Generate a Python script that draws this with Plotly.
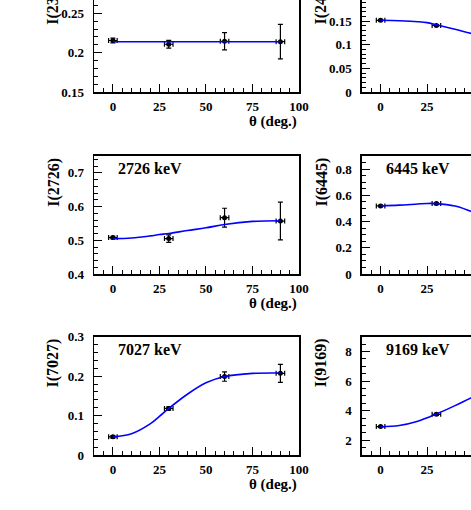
import plotly.graph_objects as go

W, H = 471, 510

# ---------------- data ----------------
theta = [0, 30, 60, 90]
theta_err = [2.3, 2.3, 2.3, 2.3]
theta_fit = [0, 10, 20, 25, 30, 40, 50, 60, 75, 90]

y_titles = ["I(2313)", "I(2498)", "I(2726)", "I(6445)", "I(7027)", "I(9169)"]
energy_labels = ["2313 keV", "2498 keV", "2726 keV", "6445 keV", "7027 keV", "9169 keV"]

I_2313 = [0.2155, 0.2107, 0.2145, 0.2140]
E_2313 = [0.003, 0.005, 0.011, 0.022]
F_2313 = [0.214, 0.214, 0.214, 0.214, 0.214, 0.214, 0.214, 0.214, 0.214, 0.214]

I_2498 = [0.152, 0.141, 0.118, 0.100]
E_2498 = [0.002, 0.002, 0.006, 0.010]
F_2498 = [0.152, 0.151, 0.149, 0.147, 0.1425, 0.133, 0.123, 0.115, 0.104, 0.100]

I_2726 = [0.508, 0.505, 0.567, 0.557]
E_2726 = [0.004, 0.011, 0.028, 0.056]
F_2726 = [0.505, 0.507, 0.513, 0.517, 0.520, 0.529, 0.537, 0.547, 0.556, 0.558]

I_6445 = [0.519, 0.537, 0.430, 0.360]
E_6445 = [0.006, 0.008, 0.020, 0.030]
F_6445 = [0.519, 0.525, 0.534, 0.538, 0.537, 0.518, 0.472, 0.430, 0.370, 0.350]

I_7027 = [0.046, 0.118, 0.199, 0.207]
E_7027 = [0.003, 0.004, 0.012, 0.023]
F_7027 = [0.046, 0.054, 0.079, 0.098, 0.118, 0.154, 0.183, 0.199, 0.207, 0.208]

I_9169 = [2.92, 3.75, 5.50, 6.30]
E_9169 = [0.05, 0.07, 0.20, 0.30]
F_9169 = [2.90, 2.99, 3.28, 3.52, 3.77, 4.34, 4.95, 5.50, 6.10, 6.30]

x_tickvals = [0, 25, 50, 75, 100]

# panel order: row-major (left, right) x 3 rows
values = [I_2313, I_2498, I_2726, I_6445, I_7027, I_9169]
errors = [E_2313, E_2498, E_2726, E_6445, E_7027, E_9169]
fits = [F_2313, F_2498, F_2726, F_6445, F_7027, F_9169]

# ---------------- layout geometry (pixels) ----------------
col_px = [(94.3, 299.0), (362.0, 471.0)]
row_px = [(-26.0, 92.0), (156.0, 274.0), (336.7, 455.0)]  # (top, bottom)

y_ranges = [[0.15, 0.267], [0, 0.195], [0.4, 0.75], [0, 0.9], [0, 0.3], [1, 9]]
y_dticks = [0.05, 0.05, 0.1, 0.2, 0.1, 2]
y_minor = [0.01, 0.01, 0.02, 0.05, 0.02, 0.5]
x_ranges = [[-10, 100], [-10, 48.6]]

FONT = "Liberation Serif"

fig = go.Figure()
ann = []

for i in range(6):
    r, c = divmod(i, 2)
    n = i + 1
    xa = "x" if n == 1 else f"x{n}"
    ya = "y" if n == 1 else f"y{n}"
    # data points
    fig.add_trace(go.Scatter(
        x=theta, y=values[i], xaxis=xa, yaxis=ya, mode="markers",
        marker=dict(color="black", size=5, symbol="circle"),
        error_x=dict(type="data", array=theta_err, color="black", thickness=1.2, width=2.5),
        error_y=dict(type="data", array=errors[i], color="black", thickness=1.2, width=2.5),
        showlegend=False, hoverinfo="skip",
    ))
    # fit curve
    fig.add_trace(go.Scatter(
        x=theta_fit, y=fits[i], xaxis=xa, yaxis=ya, mode="lines",
        line=dict(color="rgb(0,0,255)", width=1.6, shape="spline"),
        showlegend=False, hoverinfo="skip",
    ))

    top_px, bot_px = row_px[r]
    x0p, x1p = col_px[c]
    ydom = [1 - bot_px / H, min(1.0, 1 - top_px / H)]
    xdom = [x0p / W, x1p / W]

    axis_x = dict(
        domain=xdom, anchor=ya, range=x_ranges[c], tickmode="array", tickvals=x_tickvals,
        ticks="inside", ticklen=8, tickwidth=1, tickcolor="black",
        minor=dict(ticks="inside", ticklen=4, dtick=5, tickwidth=1, tickcolor="black"),
        showline=True, linecolor="black", linewidth=1.6, mirror=(r > 0),
        showgrid=False, zeroline=False, ticklabelstandoff=2, automargin=False,
        tickfont=dict(family=FONT, size=13, color="black", weight="bold"),
    )
    axis_y = dict(
        domain=ydom, anchor=xa, range=y_ranges[i], dtick=y_dticks[i], tick0=0,
        ticks="inside", ticklen=8, tickwidth=1, tickcolor="black",
        minor=dict(ticks="inside", ticklen=4, dtick=y_minor[i], tickwidth=1, tickcolor="black"),
        showline=True, linecolor="black", linewidth=1.6, mirror=(c == 0),
        showgrid=False, zeroline=False, ticklabelstandoff=6, automargin=False,
        tickfont=dict(family=FONT, size=13, color="black", weight="bold"),
    )
    fig.layout[("xaxis" if n == 1 else f"xaxis{n}")] = axis_x
    fig.layout[("yaxis" if n == 1 else f"yaxis{n}")] = axis_y

    # y-axis title, aligned to the top of the axis (ROOT style)
    ann.append(dict(
        text=y_titles[i], xref="paper", yref="paper",
        x=(x0p - 41) / W, y=1 - top_px / H, xanchor="center", yanchor="top",
        textangle=-90, showarrow=False,
        font=dict(family=FONT, size=16, color="black", weight="bold"),
    ))
    # energy label inside the frame (top row labels lie above the visible area)
    if r > 0:
        ann.append(dict(
            text=energy_labels[i], xref="paper", yref="paper",
            x=(x0p + 22) / W, y=1 - (top_px + 13) / H, xanchor="left", yanchor="middle",
            showarrow=False,
            font=dict(family=FONT, size=16, color="black", weight="bold"),
        ))
    # x-axis title for the left column
    if c == 0:
        ann.append(dict(
            text="θ (deg.)", xref="paper", yref="paper",
            x=x1p / W, y=1 - (bot_px + 29.5) / H, xanchor="right", yanchor="middle",
            showarrow=False,
            font=dict(family=FONT, size=15, color="black", weight="bold"),
        ))

# tick label "0.2" of the top-right panel, cut by the top edge
ann.append(dict(
    text="0.2", xref="paper", yref="y2", x=(col_px[1][0] - 6) / W, y=0.2,
    xanchor="right", yanchor="middle", showarrow=False,
    font=dict(family=FONT, size=13, color="black", weight="bold"),
))

fig.update_layout(
    width=W, height=H, margin=dict(l=0, r=0, t=0, b=0, autoexpand=False),
    paper_bgcolor="white", plot_bgcolor="white",
    annotations=ann, showlegend=False, hovermode=False,
)

fig.write_html(
    "out.html",
    config={"displayModeBar": False, "staticPlot": True},
    post_script=(
        "document.documentElement.style.margin='0';"
        "document.documentElement.style.overflow='hidden';"
        "document.body.style.margin='0';"
        "document.body.style.overflow='hidden';"
    ),
)
